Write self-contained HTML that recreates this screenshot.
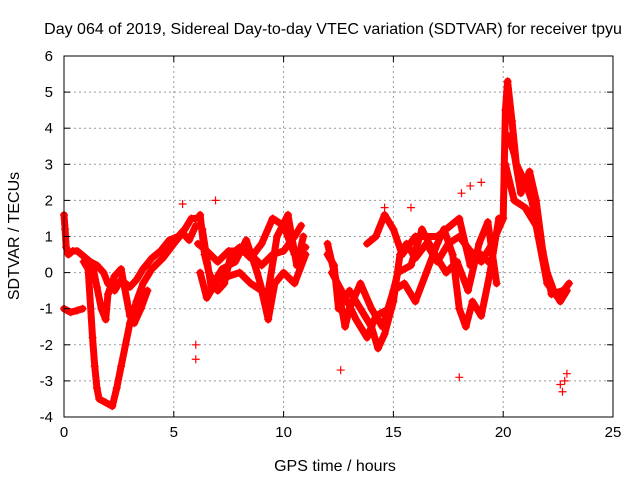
<!DOCTYPE html>
<html><head><meta charset="utf-8"><style>
body{margin:0;background:#fff;width:640px;height:480px;overflow:hidden;font-family:"Liberation Sans",sans-serif}
svg text{font-family:"Liberation Sans",sans-serif;font-size:15px;fill:#000}
svg text.big{font-size:16px}
</style></head><body>
<svg id="chart" width="640" height="480" xmlns="http://www.w3.org/2000/svg">
<text class="big" x="333" y="34" text-anchor="middle">Day 064 of 2019, Sidereal Day-to-day VTEC variation (SDTVAR) for receiver tpyu</text>
<text class="big" x="335" y="471" text-anchor="middle">GPS time / hours</text>
<text class="big" transform="translate(19,236) rotate(-90)" text-anchor="middle">SDTVAR / TECUs</text>
<g id="grid"></g><g id="marks"></g><g id="axes"></g>
</svg>
<script>
const xTicks=[0,5,10,15,20,25];
const yTicks=[-4,-3,-2,-1,0,1,2,3,4,5,6];
const trackA=[[0,1.6],[0.05,1.2],[0.1,0.7],[0.2,0.5],[0.4,0.6],[0.6,0.6],[0.8,0.5],[1.0,0.4],[1.2,0.3],[1.5,0.2],[1.8,0.0],[2.0,-0.3],[2.3,-0.5],[2.6,-0.2],[3.0,-0.4],[3.3,-0.2],[3.6,0.1],[4.0,0.4],[4.4,0.6],[4.8,0.9],[5.2,1.0],[5.5,1.2],[5.8,1.5],[6.0,1.5]];
const trackB=[[0.9,0.3],[1.1,0.1],[1.3,-1.8],[1.4,-2.6],[1.5,-3.2],[1.6,-3.5],[1.9,-3.6],[2.2,-3.7],[2.4,-3.2],[2.6,-2.6],[2.8,-2.0],[3.0,-1.4],[3.3,-0.8],[3.6,-0.3],[4.0,0.1],[4.5,0.4],[5.0,0.8],[5.4,1.1],[5.7,0.9],[6.0,1.3]];
const trackC=[[1.3,0.2],[1.5,-0.4],[1.7,-1.0],[1.9,-1.3],[2.0,-0.6],[2.3,-0.1],[2.6,0.1],[3.0,-1.2],[3.2,-1.4],[3.5,-1.0],[3.8,-0.5]];
const trackD=[[0,-1.0],[0.3,-1.1],[0.6,-1.05],[0.85,-1.0]];
const trackE=[[6.2,1.6],[6.4,0.5],[6.6,0.0],[7.0,-0.5],[7.3,-0.3],[7.6,0.5],[8.0,0.7],[8.5,0.4],[9.0,0.8],[9.5,1.5],[10.0,1.3],[10.5,0.5],[11.0,0.7]];
const trackF=[[6.2,0.0],[6.5,-0.7],[7.0,-0.2],[7.5,-0.1],[8.0,0.0],[8.5,-0.3],[9.0,-0.5],[9.3,-1.3],[9.6,-0.3],[10.0,0.0],[10.5,-0.3],[11.0,0.5]];
const trackG=[[6.1,0.8],[6.5,0.6],[7.0,0.3],[7.5,0.6],[8.0,0.6],[8.5,0.5],[9.0,0.2],[9.5,0.5],[10.0,0.6],[10.5,1.0],[10.8,1.3]];
const trackG2=[[6.3,1.2],[6.7,-0.4],[7.2,0.1],[7.8,0.3],[8.3,0.9],[8.8,0.0],[9.2,-0.9],[9.7,1.0],[10.2,1.6],[10.6,0.2],[10.9,1.0]];
const trackH=[[12.0,0.5],[12.3,0.2],[12.5,-1.0],[13.0,-0.5],[13.5,-1.0],[14.0,-1.5],[14.3,-2.1],[14.6,-1.7],[15.0,-0.8],[15.3,0.5],[15.6,0.8],[16.0,0.4],[16.5,0.8],[17.0,0.3],[17.5,0.8],[18.0,1.0],[18.5,0.6],[19.0,0.3],[19.5,0.8],[20.0,1.5]];
const trackI=[[12.0,0.8],[12.5,-0.5],[12.8,-1.5],[13.0,-1.0],[13.5,-0.3],[14.0,-1.0],[14.5,-1.5],[15.0,-0.5],[15.5,-0.3],[16.0,-0.8],[16.5,0.0],[17.0,0.8],[17.3,1.2],[17.7,0.5],[18.0,-1.0],[18.3,-1.5],[18.6,-0.8],[19.0,-1.2],[19.4,0.0],[19.8,1.5]];
const trackJ=[[13.8,0.8],[14.2,1.0],[14.6,1.6],[15.0,1.2],[15.4,0.5],[16.0,1.0],[17.0,1.0],[18.0,1.5],[18.5,0.2],[19.0,0.5],[19.5,0.2]];
const trackJ2=[[12.2,0.0],[12.9,-0.8],[13.3,-1.3],[13.8,-1.8],[14.2,-1.2],[14.8,-1.0],[15.2,0.0],[15.8,0.2],[16.3,1.2],[16.8,0.6],[17.4,0.0],[17.9,0.3],[18.4,-0.5],[18.9,0.8],[19.3,1.4],[19.7,-0.3]];
const trackK=[[20.0,1.5],[20.1,4.5],[20.2,5.3],[20.4,4.2],[20.6,3.0],[21.0,2.5],[21.3,2.0],[21.6,1.0],[22.0,0.0],[22.3,-0.5],[22.6,-0.8],[22.9,-0.5]];
const trackL=[[20.1,3.0],[20.5,2.0],[21.0,1.8],[21.5,1.3],[22.0,-0.3],[22.5,-0.7],[23.0,-0.3]];
const trackM=[[20.2,3.8],[20.5,3.3],[20.8,2.2],[21.2,2.8],[21.5,2.0],[21.8,0.6],[22.2,-0.6],[22.7,-0.5]];
const outliers=[[5.4,1.9],[6.0,-2.0],[6.0,-2.4],[6.9,2.0],[12.6,-2.7],[18.0,-2.9],[18.1,2.2],[18.5,2.4],[19.0,2.5],[14.6,1.8],[15.8,1.8],[22.6,-3.1],[22.8,-3.0],[22.9,-2.8],[22.7,-3.3]];
const tracks=[trackA,trackB,trackC,trackD,trackE,trackF,trackG,trackG2,trackH,trackI,trackJ,trackJ2,trackK,trackL,trackM];
const X0=64,X1=613,Y0=417,Y1=56;
const sx=v=>X0+(v-0)/25*(X1-X0);
const sy=v=>Y0-(v+4)/10*(Y0-Y1);
const NS="http://www.w3.org/2000/svg";
function mk(t,a,p){const e=document.createElementNS(NS,t);for(const k in a)e.setAttribute(k,a[k]);p.appendChild(e);return e;}
const grid=document.getElementById('grid'),axes=document.getElementById('axes'),marks=document.getElementById('marks');
xTicks.forEach(v=>{const x=sx(v);
 if(v>0&&v<25){const g=mk('line',{x1:x,y1:Y1,x2:x,y2:Y0,stroke:'#999','stroke-dasharray':'2,3'},grid);}
 mk('line',{x1:x,y1:Y0,x2:x,y2:Y0-6,stroke:'#000'},axes);mk('line',{x1:x,y1:Y1,x2:x,y2:Y1+6,stroke:'#000'},axes);
 const t=mk('text',{x:x,y:Y0+20,'text-anchor':'middle'},axes);t.textContent=v;
 
 });
yTicks.forEach(v=>{const y=sy(v);
 if(v>-4&&v<6){const g=mk('line',{x1:X0,y1:y,x2:X1,y2:y,stroke:'#999','stroke-dasharray':'2,3'},grid);}
 mk('line',{x1:X0,y1:y,x2:X0+6,y2:y,stroke:'#000'},axes);mk('line',{x1:X1,y1:y,x2:X1-6,y2:y,stroke:'#000'},axes);
 const t=mk('text',{x:X0-11,y:y+5,'text-anchor':'end'},axes);t.textContent=v;
 
 });
const fr=mk('rect',{x:X0,y:Y1,width:X1-X0,height:Y0-Y1,fill:'none',stroke:'#000'},axes);


function plus(p,g){const x=sx(p[0]),y=sy(p[1]);mk('path',{d:`M${x-4},${y}h8M${x},${y-4}v8`,stroke:'#f00','stroke-width':1.2},g);}
tracks.forEach(tr=>{const g=mk('g',{},marks);
 
 
 mk('polyline',{points:tr.map(p=>sx(p[0])+','+sy(p[1])).join(' '),fill:'none',stroke:'#f00','stroke-width':7,'stroke-linejoin':'round','stroke-linecap':'round'},g);
 tr.forEach(p=>plus(p,g));});
const og=mk('g',{},marks);


outliers.forEach(p=>plus(p,og));
</script>
</body></html>
